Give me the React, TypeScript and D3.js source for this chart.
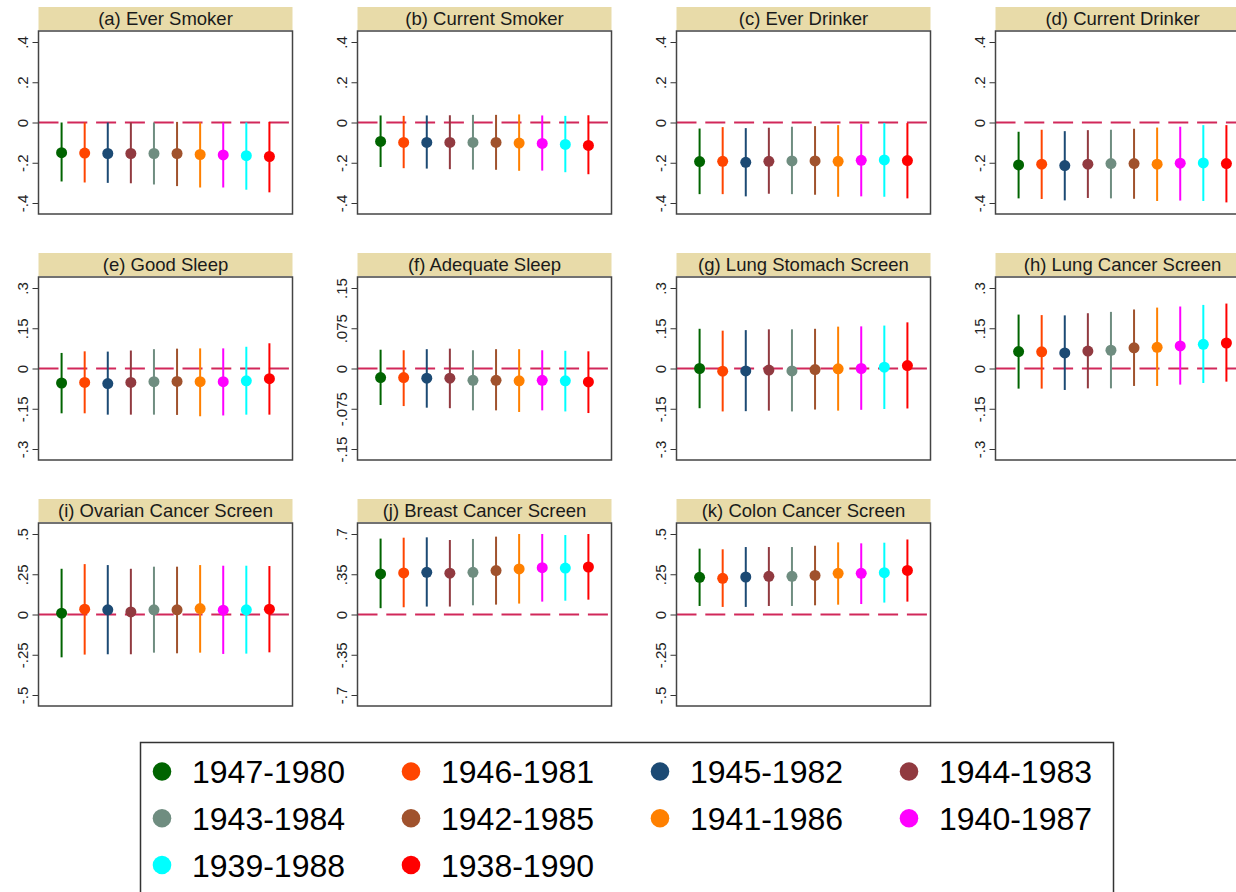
import React, { useEffect, useRef } from 'react';
import * as d3 from 'd3';

// cohort labels + colours (legend order = plot order)
const cohorts = ['1947-1980', '1946-1981', '1945-1982', '1944-1983', '1943-1984',
  '1942-1985', '1941-1986', '1940-1987', '1939-1988', '1938-1990'];
const cohortColors = ['#006400', '#ff4500', '#1c4a74', '#913a40', '#6f8d80',
  '#a0522d', '#ff8000', '#ff00ff', '#00ffff', '#ff0000'];

// each row: [estimate, lower CI, upper CI]
const everSmoker = [
  [-0.150, -0.293, 0.000], [-0.152, -0.298, 0.000], [-0.154, -0.300, 0.000], [-0.154, -0.302, 0.000],
  [-0.154, -0.308, 0.000], [-0.154, -0.316, 0.003], [-0.159, -0.323, 0.000], [-0.161, -0.323, 0.000],
  [-0.165, -0.334, 0.000], [-0.169, -0.347, 0.003],
];
const currentSmoker = [
  [-0.094, -0.221, 0.035], [-0.099, -0.227, 0.033], [-0.099, -0.229, 0.035], [-0.099, -0.232, 0.036],
  [-0.099, -0.234, 0.038], [-0.099, -0.235, 0.038], [-0.102, -0.240, 0.040], [-0.104, -0.239, 0.035],
  [-0.109, -0.247, 0.033], [-0.114, -0.257, 0.036],
];
const everDrinker = [
  [-0.194, -0.356, -0.030], [-0.193, -0.356, -0.023], [-0.198, -0.367, -0.028], [-0.193, -0.354, -0.026],
  [-0.191, -0.356, -0.021], [-0.191, -0.359, -0.018], [-0.193, -0.369, -0.013], [-0.188, -0.367, -0.008],
  [-0.186, -0.369, -0.002], [-0.189, -0.377, -0.003],
];
const currentDrinker = [
  [-0.211, -0.377, -0.046], [-0.207, -0.380, -0.036], [-0.214, -0.387, -0.043], [-0.207, -0.375, -0.038],
  [-0.204, -0.377, -0.036], [-0.204, -0.379, -0.031], [-0.207, -0.390, -0.025], [-0.202, -0.388, -0.021],
  [-0.201, -0.390, -0.013], [-0.204, -0.397, -0.013],
];
const goodSleep = [
  [-0.054, -0.167, 0.058], [-0.052, -0.167, 0.064], [-0.056, -0.172, 0.063], [-0.052, -0.172, 0.067],
  [-0.049, -0.172, 0.072], [-0.048, -0.173, 0.074], [-0.049, -0.178, 0.075], [-0.049, -0.175, 0.075],
  [-0.046, -0.172, 0.081], [-0.038, -0.172, 0.094],
];
const adequateSleep = [
  [-0.017, -0.068, 0.035], [-0.017, -0.070, 0.034], [-0.018, -0.073, 0.036], [-0.018, -0.074, 0.037],
  [-0.022, -0.078, 0.034], [-0.022, -0.078, 0.036], [-0.023, -0.081, 0.036], [-0.022, -0.078, 0.034],
  [-0.023, -0.080, 0.033], [-0.025, -0.083, 0.032],
];
const lungStomach = [
  [0.000, -0.148, 0.148], [-0.010, -0.160, 0.141], [-0.009, -0.159, 0.143], [-0.006, -0.157, 0.146],
  [-0.009, -0.160, 0.146], [-0.004, -0.153, 0.148], [-0.001, -0.157, 0.156], [0.000, -0.154, 0.157],
  [0.005, -0.151, 0.160], [0.011, -0.149, 0.172],
];
const lungCancer = [
  [0.063, -0.075, 0.201], [0.062, -0.075, 0.199], [0.058, -0.080, 0.198], [0.065, -0.074, 0.206],
  [0.068, -0.074, 0.211], [0.077, -0.065, 0.220], [0.079, -0.065, 0.227], [0.084, -0.060, 0.231],
  [0.090, -0.054, 0.237], [0.095, -0.049, 0.242],
];
const ovarian = [
  [0.008, -0.266, 0.284], [0.033, -0.249, 0.313], [0.029, -0.247, 0.307], [0.016, -0.247, 0.284],
  [0.029, -0.237, 0.297], [0.029, -0.241, 0.297], [0.037, -0.237, 0.307], [0.027, -0.245, 0.303],
  [0.029, -0.243, 0.303], [0.033, -0.235, 0.301],
];
const breast = [
  [0.353, 0.055, 0.660], [0.361, 0.063, 0.668], [0.367, 0.069, 0.671], [0.359, 0.069, 0.648],
  [0.367, 0.080, 0.657], [0.382, 0.086, 0.677], [0.396, 0.095, 0.700], [0.407, 0.112, 0.700],
  [0.404, 0.120, 0.691], [0.413, 0.129, 0.700],
];
const colon = [
  [0.231, 0.053, 0.409], [0.225, 0.047, 0.405], [0.233, 0.047, 0.419], [0.237, 0.053, 0.419],
  [0.237, 0.053, 0.419], [0.243, 0.057, 0.427], [0.256, 0.061, 0.448], [0.256, 0.065, 0.442],
  [0.260, 0.074, 0.446], [0.274, 0.080, 0.466],
];

// y tick sets
const ticks04 = [-0.4, -0.2, 0, 0.2, 0.4];
const labels04 = ['-.4', '-.2', '0', '.2', '.4'];
const ticks03 = [-0.3, -0.15, 0, 0.15, 0.3];
const labels03 = ['-.3', '-.15', '0', '.15', '.3'];
const ticks015 = [-0.15, -0.075, 0, 0.075, 0.15];
const labels015 = ['-.15', '-.075', '0', '.075', '.15'];
const ticks05 = [-0.5, -0.25, 0, 0.25, 0.5];
const labels05 = ['-.5', '-.25', '0', '.25', '.5'];
const ticks07 = [-0.7, -0.35, 0, 0.35, 0.7];
const labels07 = ['-.7', '-.35', '0', '.35', '.7'];

const panels = [
  { title: '(a) Ever Smoker', data: everSmoker, ticks: ticks04, labels: labels04 },
  { title: '(b) Current Smoker', data: currentSmoker, ticks: ticks04, labels: labels04 },
  { title: '(c) Ever Drinker', data: everDrinker, ticks: ticks04, labels: labels04 },
  { title: '(d) Current Drinker', data: currentDrinker, ticks: ticks04, labels: labels04 },
  { title: '(e) Good Sleep', data: goodSleep, ticks: ticks03, labels: labels03 },
  { title: '(f) Adequate Sleep', data: adequateSleep, ticks: ticks015, labels: labels015 },
  { title: '(g) Lung Stomach Screen', data: lungStomach, ticks: ticks03, labels: labels03 },
  { title: '(h) Lung Cancer Screen', data: lungCancer, ticks: ticks03, labels: labels03 },
  { title: '(i) Ovarian Cancer Screen', data: ovarian, ticks: ticks05, labels: labels05 },
  { title: '(j) Breast Cancer Screen', data: breast, ticks: ticks07, labels: labels07 },
  { title: '(k) Colon Cancer Screen', data: colon, ticks: ticks05, labels: labels05 },
];

const FONT = '"Liberation Sans", Arial, sans-serif';

const App = () => {
  const svgRef = useRef(null);

  useEffect(() => {
    const width = 1236;
    const height = 892;
    const svg = d3.select(svgRef.current)
      .attr('width', width)
      .attr('height', height);
    svg.selectAll('*').remove();

    svg.append('rect').attr('width', width).attr('height', height).attr('fill', '#fff');

    const colX0 = 38.5;
    const colStep = 319;
    const rowY0 = 7;
    const rowStep = 246;
    const stripH = 23;
    const boxW = 254;
    const boxH = 183;
    const pad = 11;

    panels.forEach((p, i) => {
      const col = i % 4;
      const row = Math.floor(i / 4);
      const left = colX0 + col * colStep;
      const stripTop = rowY0 + row * rowStep;
      const top = stripTop + stripH + 1;
      const g = svg.append('g');

      // title strip
      g.append('rect')
        .attr('x', left).attr('y', stripTop)
        .attr('width', boxW).attr('height', stripH)
        .attr('fill', '#e8dba9');
      g.append('text')
        .attr('x', left + boxW / 2).attr('y', stripTop + stripH / 2 + 6.5)
        .attr('text-anchor', 'middle')
        .attr('font-family', FONT).attr('font-size', 18.5)
        .attr('fill', '#1a1a1a')
        .text(p.title);

      const maxT = p.ticks[p.ticks.length - 1];
      const x = d3.scaleLinear().domain([0, cohorts.length + 1]).range([left, left + boxW]);
      const y = d3.scaleLinear().domain([-maxT, maxT]).range([top + boxH - pad, top + pad]);

      // plot region
      g.append('rect')
        .attr('x', left).attr('y', top)
        .attr('width', boxW).attr('height', boxH)
        .attr('fill', '#fff');

      // zero reference line
      g.append('line')
        .attr('x1', left).attr('x2', left + boxW)
        .attr('y1', y(0)).attr('y2', y(0))
        .attr('stroke', '#d1285a').attr('stroke-width', 2)
        .attr('stroke-dasharray', '20 8.8');

      // y axis
      const axis = d3.axisLeft(y)
        .tickValues(p.ticks)
        .tickFormat((d, k) => p.labels[k])
        .tickSize(6)
        .tickPadding(4);
      const ax = g.append('g').attr('transform', `translate(${left},0)`).call(axis);
      ax.select('.domain').remove();
      ax.selectAll('.tick line').attr('stroke', '#333').attr('stroke-width', 1);
      ax.selectAll('.tick text')
        .attr('font-family', FONT).attr('font-size', 15).attr('fill', '#222')
        .attr('x', null).attr('dy', null)
        .attr('text-anchor', 'middle')
        .attr('transform', 'translate(-10.5,0) rotate(-90)');

      // confidence intervals
      g.selectAll('.ci')
        .data(p.data)
        .enter().append('line')
        .attr('class', 'ci')
        .attr('x1', (d, k) => x(k + 1)).attr('x2', (d, k) => x(k + 1))
        .attr('y1', d => y(d[1])).attr('y2', d => y(d[2]))
        .attr('stroke', (d, k) => cohortColors[k])
        .attr('stroke-width', 2);

      // point estimates
      g.selectAll('.pt')
        .data(p.data)
        .enter().append('circle')
        .attr('class', 'pt')
        .attr('cx', (d, k) => x(k + 1))
        .attr('cy', d => y(d[0]))
        .attr('r', 5.5)
        .attr('fill', (d, k) => cohortColors[k]);

      // frame
      g.append('rect')
        .attr('x', left).attr('y', top)
        .attr('width', boxW).attr('height', boxH)
        .attr('fill', 'none')
        .attr('stroke', '#444').attr('stroke-width', 1.5);
    });

    // legend
    const lg = svg.append('g');
    lg.append('rect')
      .attr('x', 140.5).attr('y', 742.5)
      .attr('width', 973).attr('height', 170)
      .attr('fill', '#fff')
      .attr('stroke', '#333').attr('stroke-width', 1.5);

    const legX = d3.scalePoint().domain(d3.range(4)).range([162, 909]);
    const legY = d3.scalePoint().domain(d3.range(3)).range([771.5, 865]);
    cohorts.forEach((c, i) => {
      const cx = legX(i % 4);
      const cy = legY(Math.floor(i / 4));
      lg.append('circle')
        .attr('cx', cx).attr('cy', cy).attr('r', 9.3)
        .attr('fill', cohortColors[i]);
      lg.append('text')
        .attr('x', cx + 30).attr('y', cy + 11.5)
        .attr('font-family', FONT).attr('font-size', 32)
        .attr('fill', '#000')
        .text(c);
    });
  }, []);

  return (
    <div style={{ position: 'absolute', left: 0, top: 0, width: 1236, height: 892, overflow: 'hidden' }}>
      <svg ref={svgRef} style={{ display: 'block' }}></svg>
    </div>
  );
};

export default App;
